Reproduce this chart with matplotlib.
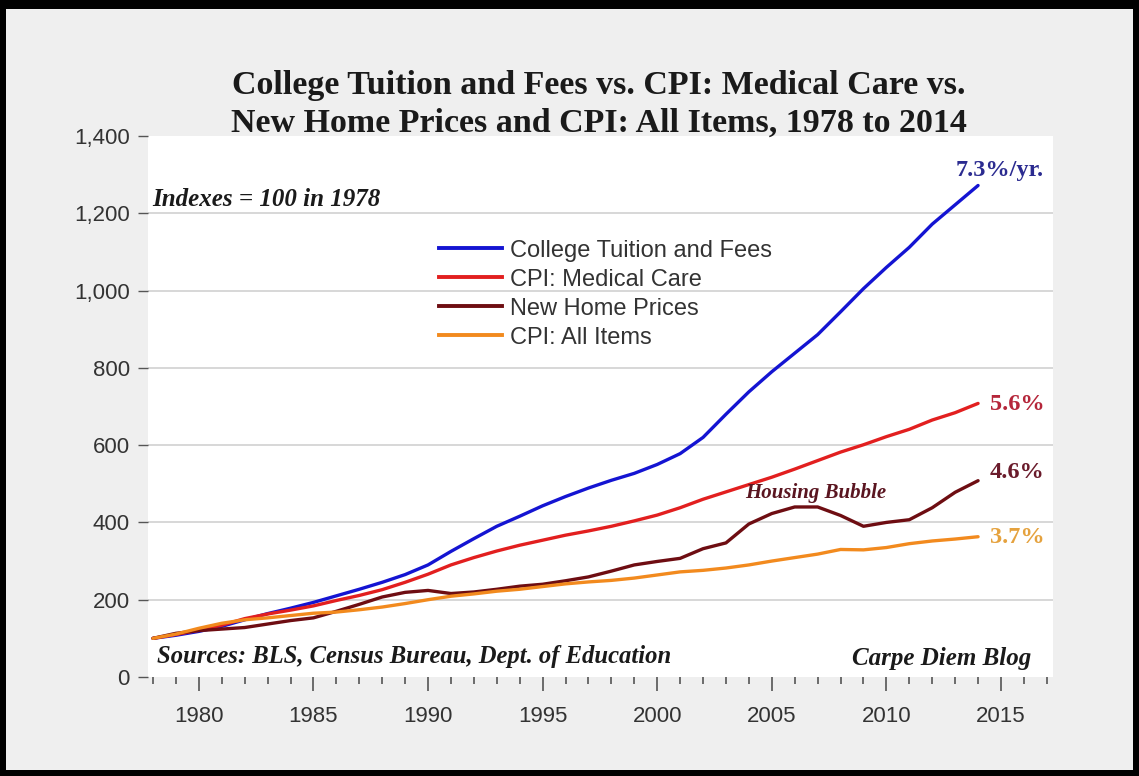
import matplotlib
matplotlib.use("Agg")
import matplotlib.pyplot as plt
from matplotlib.lines import Line2D
from matplotlib.patches import Rectangle
from matplotlib.ticker import MultipleLocator, FuncFormatter

years = list(range(1978, 2015))

# indexes, 1978 = 100
tuition = [100, 108, 118, 131, 148, 164, 178, 193, 210, 227, 245, 265, 290,
           325, 358, 390, 416, 443, 467, 489, 509, 527, 550, 578, 620, 680,
           738, 790, 838, 886, 945, 1005, 1060, 1112, 1172, 1222, 1272]
medical = [100, 110, 121, 134, 151, 163, 173, 184, 198, 211, 226, 245, 266,
           290, 309, 326, 341, 354, 367, 378, 390, 404, 419, 438, 460, 479,
           498, 517, 538, 560, 582, 601, 622, 641, 665, 684, 708]
homes = [100, 113, 120, 124, 128, 137, 146, 153, 170, 188, 207, 219, 224,
         216, 220, 227, 235, 240, 249, 259, 274, 290, 299, 307, 332, 347,
         396, 423, 440, 440, 418, 390, 400, 407, 438, 478, 508]
cpi_all = [100, 111, 126, 139, 148, 153, 159, 165, 168, 174, 181, 190, 200,
           209, 215, 222, 227, 234, 241, 246, 250, 256, 264, 272, 276, 282,
           290, 300, 309, 318, 330, 329, 335, 345, 352, 357, 363]

labels = ["College Tuition and Fees", "CPI: Medical Care",
          "New Home Prices", "CPI: All Items"]
colors = ["#1414d2", "#e21f1f", "#6e0d12", "#f28a1e"]
rates = ["7.3%/yr.", "5.6%", "4.6%", "3.7%"]
rate_colors = ["#2b2b90", "#b5263a", "#6a1b2b", "#e5a23e"]

sans = ["Liberation Sans", "DejaVu Sans"]
serif = ["Liberation Serif", "DejaVu Serif"]

fig = plt.figure(figsize=(11.39, 7.76), dpi=100, facecolor="#efefef")
ax = fig.add_axes([0.1299, 0.1276, 0.7946, 0.6971])
ax.set_facecolor("white")

for series, lab, col in zip([tuition, medical, homes, cpi_all], labels, colors):
    ax.plot(years, series, color=col, lw=2.4, label=lab, solid_capstyle="round")

ax.set_xlim(1977.78, 2017.27)
ax.set_ylim(0, 1400)
ax.yaxis.set_major_locator(MultipleLocator(200))
ax.yaxis.set_major_formatter(FuncFormatter(lambda v, p: f"{int(v):,}"))
ax.xaxis.set_major_locator(MultipleLocator(5))
ax.xaxis.set_minor_locator(MultipleLocator(1))

for v in range(200, 1400, 200):
    ax.axhline(v, color="#d4d4d4", lw=1.3, zorder=0)

for s in ax.spines.values():
    s.set_visible(False)

ax.tick_params(axis="y", direction="out", length=7, width=1, color="#555555",
               labelsize=16, labelcolor="#333333", pad=6)
ax.tick_params(axis="x", which="major", direction="out", length=10, width=1.2,
               color="#555555", labelsize=16, labelcolor="#333333", pad=11)
ax.tick_params(axis="x", which="minor", direction="out", length=5, width=1.2,
               color="#555555")
for t in ax.get_xticklabels() + ax.get_yticklabels():
    t.set_family(sans)

# title
fig.text(0.5255, 0.890, "College Tuition and Fees vs. CPI: Medical Care vs.",
         ha="center", va="center", fontsize=24.5, fontweight="bold",
         family=serif, color="#1a1a1a")
fig.text(0.5255, 0.841, "New Home Prices and CPI: All Items, 1978 to 2014",
         ha="center", va="center", fontsize=24.5, fontweight="bold",
         family=serif, color="#1a1a1a")

# legend
handles = [Line2D([], [], color=c, lw=2.8) for c in colors]
leg = ax.legend(handles, labels, loc="upper left", bbox_to_anchor=(0.298, 0.848),
                frameon=False, handlelength=2.67, handletextpad=0.34,
                labelspacing=0.3, prop={"family": sans, "size": 17})
for t in leg.get_texts():
    t.set_color("#333333")

# annotations
ax.text(2014.95, 1312, rates[0], ha="center", va="center", fontsize=17.5,
        fontweight="bold", family=serif, color=rate_colors[0])
ax.text(2015.7, 704, rates[1], ha="center", va="center", fontsize=17.5,
        fontweight="bold", family=serif, color=rate_colors[1])
ax.text(2015.7, 528, rates[2], ha="center", va="center", fontsize=17.5,
        fontweight="bold", family=serif, color=rate_colors[2])
ax.text(2015.7, 362, rates[3], ha="center", va="center", fontsize=17.5,
        fontweight="bold", family=serif, color=rate_colors[3])
ax.text(2006.9, 476, "Housing Bubble", ha="center", va="center", fontsize=15,
        fontweight="bold", style="italic", family=serif, color="#5a1520")
ax.text(1977.96, 1237, "Indexes = 100 in 1978", ha="left", va="center",
        fontsize=18, fontweight="bold", style="italic", family=serif,
        color="#1a1a1a")
ax.text(1978.17, 52, "Sources: BLS, Census Bureau, Dept. of Education",
        ha="left", va="center", fontsize=17.7, fontweight="bold", style="italic",
        family=serif, color="#1a1a1a")
ax.text(2016.3, 47, "Carpe Diem Blog", ha="right", va="center", fontsize=18,
        fontweight="bold", style="italic", family=serif, color="#1a1a1a")

# black frame around the picture
W, H = 1139, 776
for (x0, y0, w, h) in [(0, 0, 6 / W, 1), (1 - 6 / W, 0, 6 / W, 1),
                       (0, 1 - 9 / H, 1, 9 / H), (0, 0, 1, 6 / H)]:
    fig.patches.append(Rectangle((x0, y0), w, h, transform=fig.transFigure,
                                 facecolor="black", edgecolor="none"))

fig.savefig("out.png", dpi=100, facecolor=fig.get_facecolor())
